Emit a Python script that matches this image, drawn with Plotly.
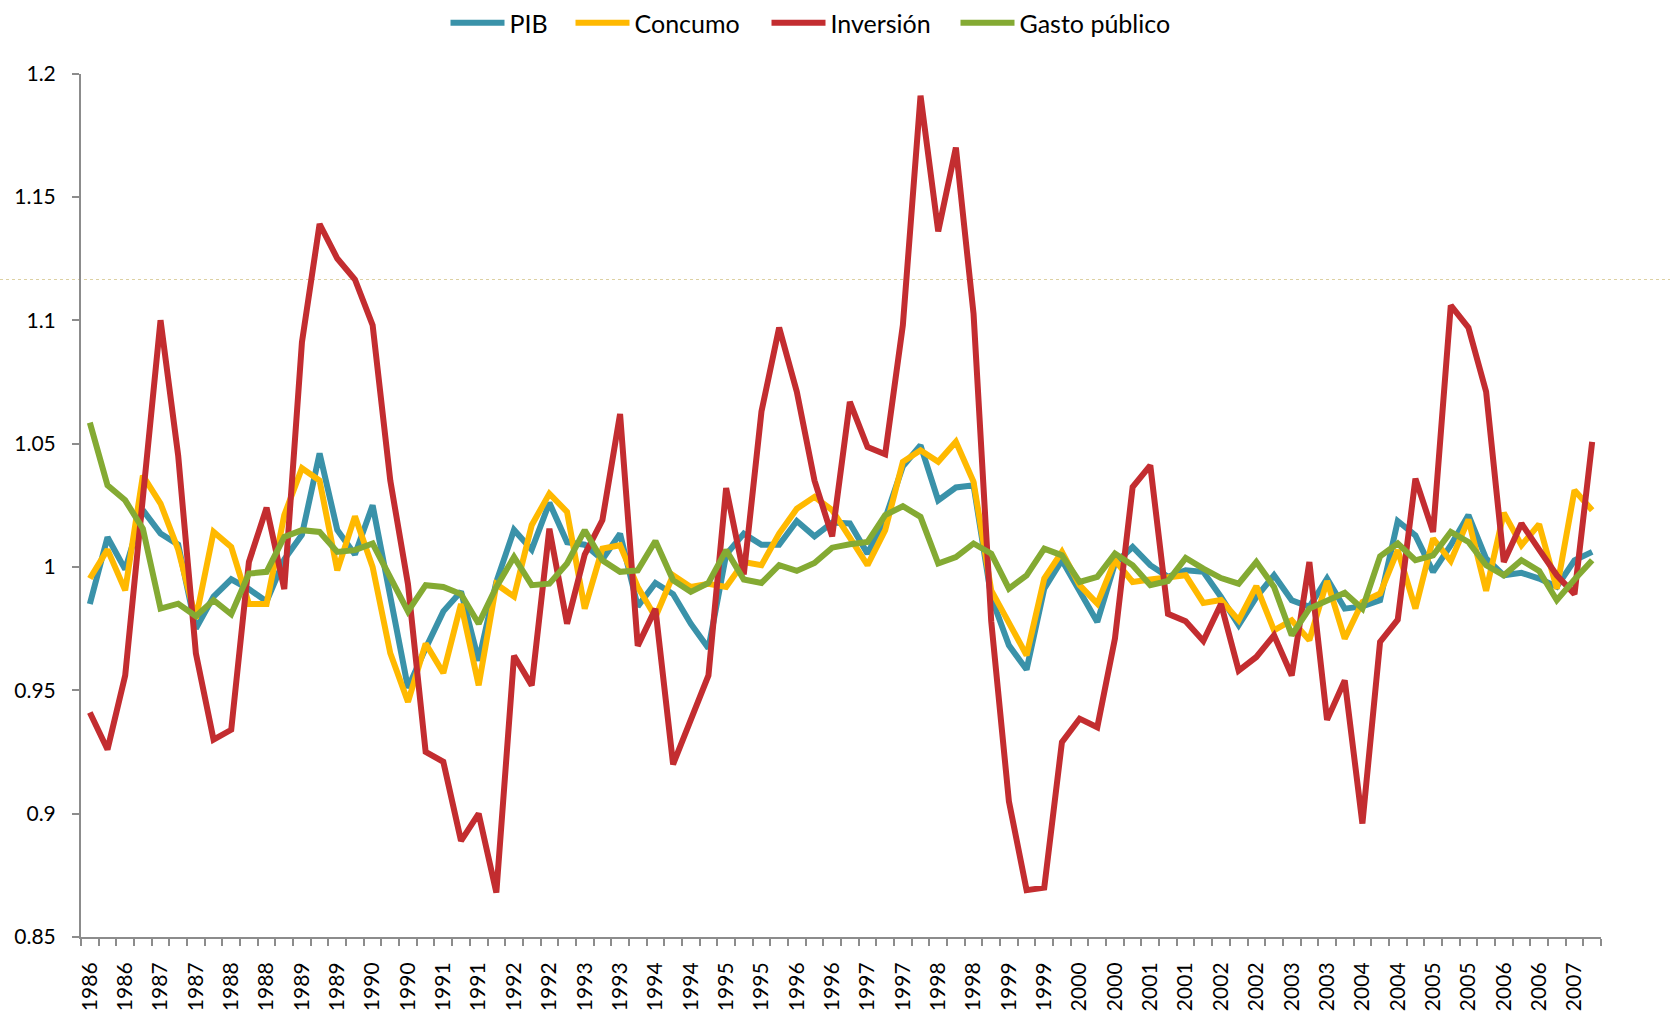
import plotly.graph_objects as go

# Quarterly data 1986Q1 .. 2007Q2 (86 quarters)
years = [1986 + i // 4 for i in range(86)]

pib = [0.985, 1.012, 0.999, 1.023, 1.0135, 1.009, 0.975, 0.988, 0.995, 0.991,
       0.986, 1.003, 1.013, 1.046, 1.015, 1.005, 1.025, 0.988, 0.951, 0.967,
       0.982, 0.990, 0.962, 0.994, 1.015, 1.007, 1.026, 1.010, 1.009, 1.003,
       1.0135, 0.984, 0.9935, 0.989, 0.977, 0.967, 1.005, 1.0135, 1.009, 1.009,
       1.0186, 1.0124, 1.018, 1.0176, 1.0054, 1.0196, 1.0408, 1.0493, 1.027, 1.0322,
       1.0331, 0.9878, 0.9682, 0.9584, 0.9912, 1.0027, 0.9905, 0.9777, 1.0014, 1.0081,
       1.0007, 0.996, 0.9986, 0.998, 0.9878, 0.9764, 0.9878, 0.9966, 0.9865, 0.9838,
       0.9953, 0.9831, 0.984, 0.9865, 1.0186, 1.0128, 0.998, 1.0088, 1.021, 1.0034,
       0.9966, 0.9976, 0.9953, 0.992, 1.0027, 1.0061]

consumo = [0.9953, 1.007, 0.9905, 1.037, 1.0257, 1.007, 0.979, 1.0142, 1.0081, 0.985,
           0.985, 1.021, 1.040, 1.035, 0.9986, 1.0205, 1.000, 0.965, 0.9453, 0.9689,
           0.957, 0.985, 0.952, 0.993, 0.988, 1.0169, 1.0297, 1.0223, 0.9831, 1.0074,
           1.0088, 0.9919, 0.9797, 0.9966, 0.9919, 0.9932, 0.9919, 1.002, 1.0007, 1.0135,
           1.0236, 1.0284, 1.023, 1.0122, 1.0007, 1.0149, 1.0426, 1.0473, 1.0426, 1.0507,
           1.0345, 0.9905, 0.977, 0.9642, 0.9953, 1.0061, 0.9926, 0.9851, 1.0027, 0.9939,
           0.9949, 0.9957, 0.9966, 0.9854, 0.9866, 0.9784, 0.9922, 0.9743, 0.9784, 0.9703,
           0.9943, 0.9709, 0.9858, 0.9892, 1.0068, 0.9831, 1.0115, 1.0024, 1.0192, 0.9903,
           1.0219, 1.0088, 1.0173, 0.9912, 1.0311, 1.023]

inversion = [0.941, 0.926, 0.956, 1.030, 1.100, 1.045, 0.965, 0.930, 0.934, 1.002,
             1.024, 0.991, 1.091, 1.139, 1.125, 1.1165, 1.098, 1.035, 0.993, 0.925,
             0.921, 0.889, 0.900, 0.868, 0.964, 0.952, 1.0155, 0.977, 1.005, 1.019,
             1.062, 0.968, 0.983, 0.920, 0.938, 0.956, 1.032, 0.997, 1.063, 1.097,
             1.071, 1.035, 1.0124, 1.0669, 1.0486, 1.0457, 1.098, 1.191, 1.136, 1.170,
             1.1025, 0.978, 0.905, 0.869, 0.870, 0.929, 0.9385, 0.935, 0.971, 1.0324,
             1.0412, 0.981, 0.978, 0.970, 0.985, 0.958, 0.9635, 0.9723, 0.956, 1.002,
             0.938, 0.954, 0.896, 0.9696, 0.9786, 1.0358, 1.0142, 1.106, 1.097, 1.071,
             1.002, 1.0176, 1.007, 0.9966, 0.989, 1.0507]

gasto = [1.0585, 1.0331, 1.027, 1.0155, 0.9831, 0.9851, 0.980, 0.9865, 0.9808, 0.9973,
         0.998, 1.0122, 1.0149, 1.0142, 1.0061, 1.0068, 1.0095, 0.996, 0.982, 0.9926,
         0.9919, 0.989, 0.977, 0.9919, 1.004, 0.9926, 0.9932, 1.0014, 1.0149, 1.0027,
         0.998, 0.9986, 1.0105, 0.9946, 0.9899, 0.9935, 1.0068, 0.9949, 0.9935, 1.0007,
         0.9984, 1.0016, 1.0078, 1.0092, 1.0101, 1.021, 1.0246, 1.0203, 1.0014, 1.004,
         1.0095, 1.0054, 0.9912, 0.9966, 1.0074, 1.0047, 0.9939, 0.996, 1.0054, 1.0007,
         0.9926, 0.9943, 1.0036, 0.9993, 0.9955, 0.9932, 1.002, 0.9919, 0.9723, 0.9831,
         0.9865, 0.9895, 0.9831, 1.0043, 1.0095, 1.0027, 1.0047, 1.0142, 1.0101, 1.0007,
         0.9966, 1.0027, 0.9984, 0.9865, 0.9949, 1.0027]

series_names = ["PIB", "Concumo", "Inversión", "Gasto público"]
series_colors = ["#3A92A9", "#FFB900", "#C32D30", "#84AA33"]
legend_entry_widths = [56, 127, 120, 150]

y_tickvals = [0.85, 0.9, 0.95, 1.0, 1.05, 1.1, 1.15, 1.2]
y_ticktext = ["0.85", "0.9", "0.95", "1", "1.05", "1.1", "1.15", "1.2"]
y_range = [0.85, 1.2]
ref_line_value = 1.1165  # faint dotted guide line across the picture

x = list(range(len(years)))
label_idx = list(range(0, len(years), 2))
x_ticktext = [str(years[i]) for i in label_idx]

FONT = "Lato, 'Open Sans', sans-serif"
AXIS_COLOR = "#8C8C8C"

W, H = 1670, 1017
M_L, M_R, M_B = 81, 69, 80
PLOT_TOP = 73.5
paper_h = H - M_B
plot_w = W - M_L - M_R

fig = go.Figure()
for name, vals, col, lw in zip(series_names, [pib, consumo, inversion, gasto],
                               series_colors, legend_entry_widths):
    fig.add_trace(go.Scatter(x=x, y=vals, name=name, mode="lines", legendwidth=lw,
                             line=dict(color=col, width=6)))

fig.update_layout(
    width=W, height=H,
    margin=dict(l=M_L, r=M_R, t=0, b=M_B, pad=0, autoexpand=False),
    paper_bgcolor="white", plot_bgcolor="white",
    font=dict(family=FONT, size=21, color="black"),
    showlegend=True,
    legend=dict(orientation="h", x=(810 - M_L) / plot_w, xanchor="center",
                y=1, yanchor="top",
                font=dict(family=FONT, size=25, color="black"),
                itemwidth=54, tracegroupgap=0, bgcolor="rgba(0,0,0,0)"),
    xaxis=dict(range=[-0.5, 85.5], showgrid=False, zeroline=False, automargin=False,
               showline=True, linecolor=AXIS_COLOR, linewidth=2,
               tickmode="array", tickvals=label_idx, ticktext=x_ticktext,
               tickangle=-90, ticks="", ticklabelstandoff=15,
               tickfont=dict(family=FONT, size=21, color="black"),
               minor=dict(ticks="outside", ticklen=7, tickwidth=2, tickcolor=AXIS_COLOR,
                          tickmode="array", tickvals=[k - 0.5 for k in range(87)],
                          showgrid=False)),
    yaxis=dict(range=y_range, domain=[0, (paper_h - PLOT_TOP) / paper_h],
               showgrid=False, zeroline=False, automargin=False,
               showline=True, linecolor=AXIS_COLOR, linewidth=2,
               tickmode="array", tickvals=y_tickvals, ticktext=y_ticktext,
               ticks="outside", ticklen=7, tickwidth=2, tickcolor=AXIS_COLOR,
               ticklabelstandoff=12,
               tickfont=dict(family=FONT, size=21, color="black")),
    shapes=[dict(type="line", xref="paper", yref="y domain",
                 x0=-M_L / plot_w, x1=(W - M_L) / plot_w,
                 y0=(ref_line_value - y_range[0]) / (y_range[1] - y_range[0]),
                 y1=(ref_line_value - y_range[0]) / (y_range[1] - y_range[0]),
                 line=dict(color="rgba(212,198,140,0.8)", width=1, dash="dot"),
                 layer="below")],
)

fig.write_html("out.html", config={"displayModeBar": False},
               post_script="document.body.style.margin='0';")
